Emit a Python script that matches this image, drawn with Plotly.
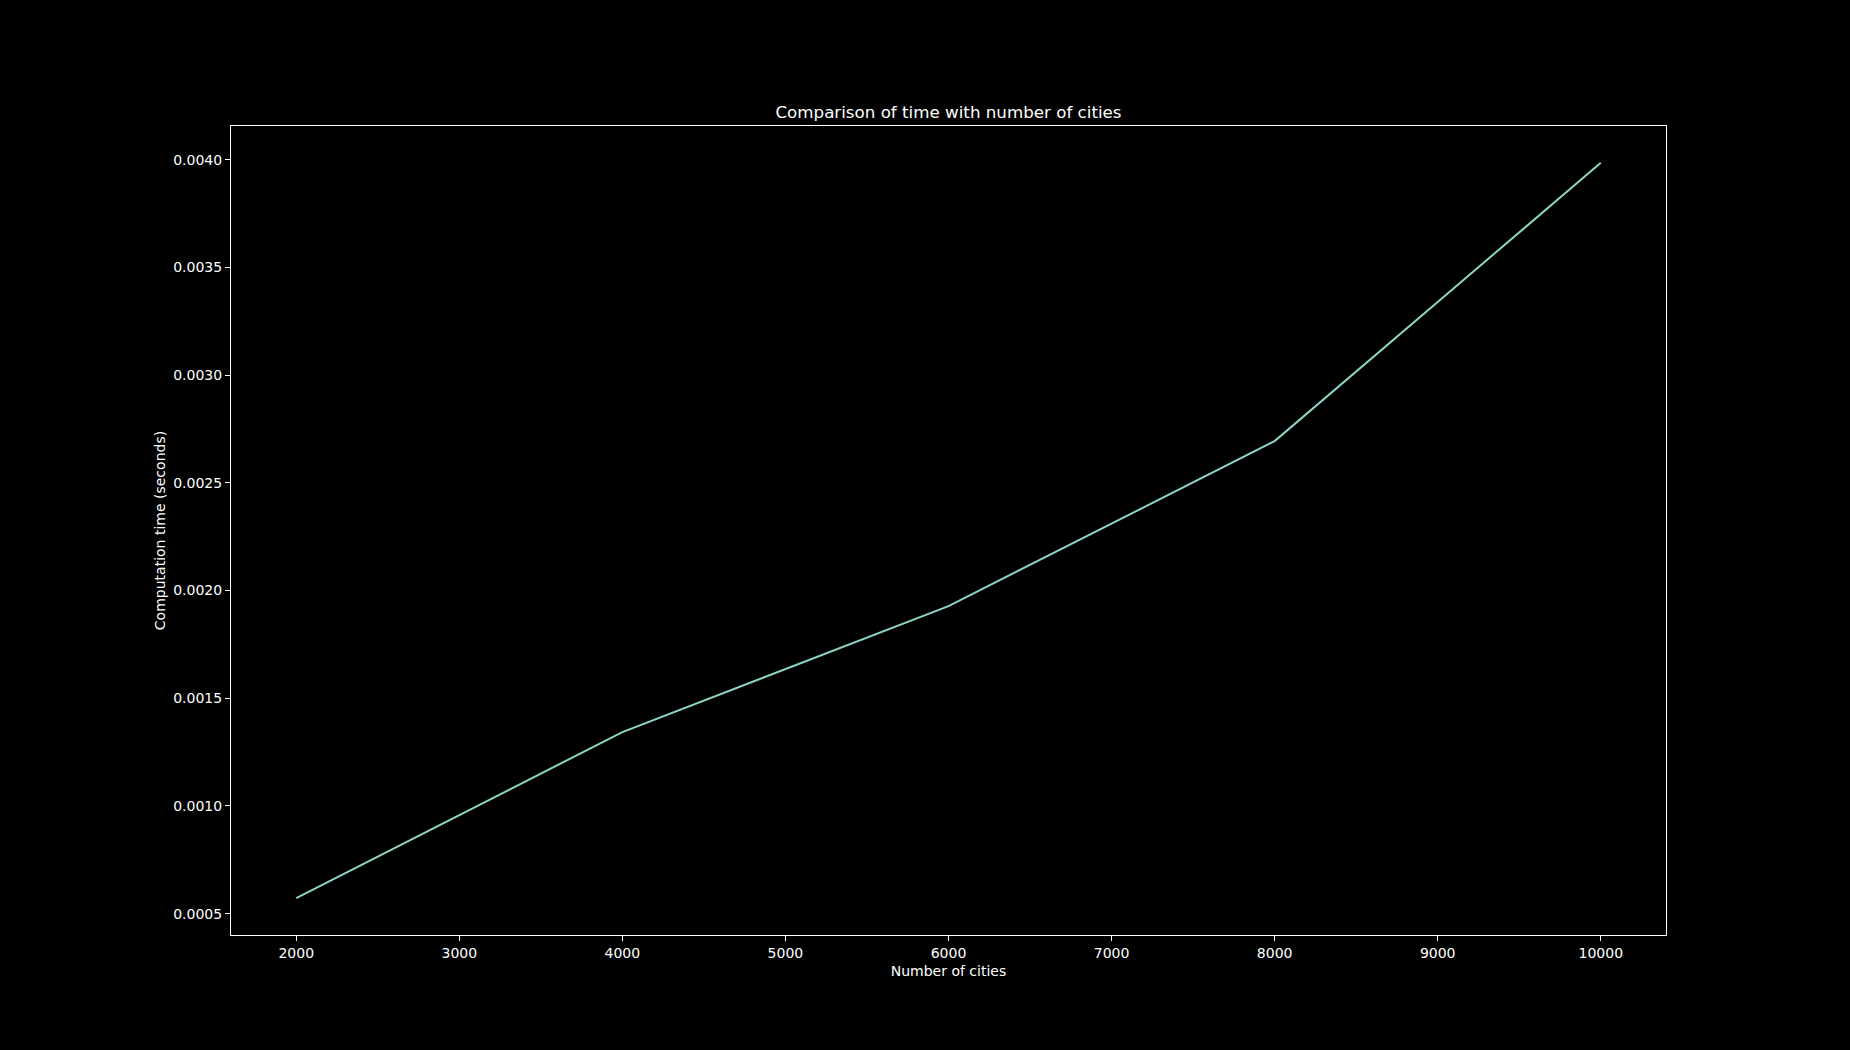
import plotly.graph_objects as go

cities = [2000, 4000, 6000, 8000, 10000]
times = [0.000572, 0.001343, 0.001928, 0.002694, 0.003986]
x_ticks = [2000, 3000, 4000, 5000, 6000, 7000, 8000, 9000, 10000]
x_tick_labels = [str(v) for v in x_ticks]
y_ticks = [0.0005, 0.0010, 0.0015, 0.0020, 0.0025, 0.0030, 0.0035, 0.0040]

FONT = "DejaVu Sans"

fig = go.Figure()
fig.add_trace(go.Scatter(x=cities, y=times, mode="lines",
                         line=dict(color="#8dd3c7", width=2), showlegend=False))

axis_common = dict(showgrid=False, zeroline=False, showline=True, linecolor="white",
                   linewidth=1, mirror=True, ticks="outside", ticklen=5, tickwidth=1,
                   tickcolor="white", tickfont=dict(family=FONT, size=14, color="white"))

fig.update_xaxes(range=[1600, 10400], tickvals=x_ticks, ticktext=x_tick_labels,
                 title=dict(text="Number of cities", font=dict(family=FONT, size=14, color="white"), standoff=6),
                 **axis_common)
fig.update_yaxes(range=[0.000401, 0.004157], tickvals=y_ticks, tickformat=".4f",
                 title=dict(text="Computation time (seconds)", font=dict(family=FONT, size=14, color="white"), standoff=4),
                 **axis_common)

fig.update_layout(
    width=1850, height=1050,
    paper_bgcolor="black", plot_bgcolor="black",
    margin=dict(l=231, r=184, t=126, b=115, autoexpand=False),
    title=dict(text="Comparison of time with number of cities", x=(231 + 1666) / 2 / 1850, xanchor="center",
               y=1 - 112 / 1050, yanchor="middle", yref="container",
               font=dict(family=FONT, size=16.7, color="white")),
    font=dict(family=FONT, color="white"),
)

fig.write_html("out.html", config={"displayModeBar": False},
               post_script="document.body.style.margin='0';document.body.style.background='black';"
                           "document.documentElement.style.background='black';")
